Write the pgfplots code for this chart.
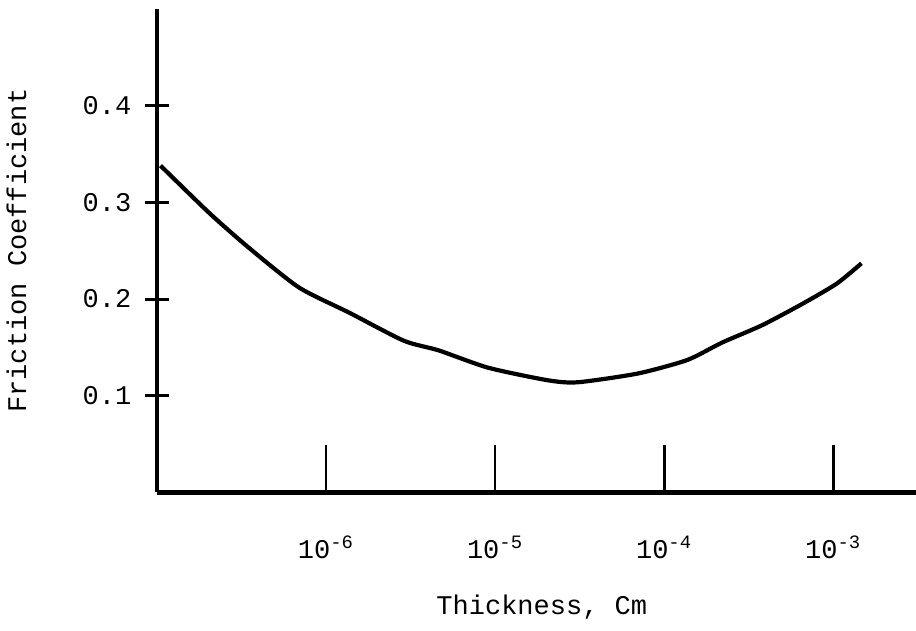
\documentclass[border=0pt]{standalone}
\usepackage{pgfplots}
\pgfplotsset{compat=1.18}
\usepackage{fontspec}
\setmainfont{Liberation Mono}
\begin{document}
\begin{tikzpicture}
\fontsize{13.5}{15}\selectfont
\useasboundingbox (-78.5pt,-69.25pt) rectangle (379.5pt,246.25pt);
\begin{axis}[
  at={(0pt,0pt)}, anchor=south west,
  scale only axis, width=379.5pt, height=241.75pt,
  xmode=log, log basis x=10,
  xmin=1e-7, xmax=3.09e-3,
  ymin=0, ymax=0.5,
  axis x line*=bottom, axis y line*=left,
  axis line style={line width=2.2pt, black},
  xtick={1e-6,1e-5,1e-4,1e-3},
  xticklabels={10\textsuperscript{-6},10\textsuperscript{-5},10\textsuperscript{-4},10\textsuperscript{-3}},
  ytick={0.1,0.2,0.3,0.4},
  yticklabels={0.1,0.2,0.3,0.4},
  minor xtick={}, minor ytick={},
  xtick align=inside, ytick align=center,
  xtick style={line width=1.4pt, black, /pgfplots/major tick length=24pt},
  ytick style={line width=1.6pt, black, /pgfplots/major tick length=12.5pt},
  x tick label style={font=\fontsize{13.5}{15}\selectfont, yshift=-17pt},
  y tick label style={font=\fontsize{13.5}{15}\selectfont, xshift=-6pt},
  /pgf/number format/assume math mode=true,
  xlabel={Thickness, Cm},
  ylabel={Friction Coefficient},
  xlabel style={font=\fontsize{13.5}{15}\selectfont, at={(axis description cs:0.507,0)}, anchor=center, yshift=-57.5pt},
  ylabel style={font=\fontsize{13.5}{15}\selectfont, yshift=19pt},
  clip=false,
]
\addplot[black, line width=2.1pt, smooth, tension=0.4] coordinates {
  (1.05e-7,0.338)
  (2.04e-7,0.289)
  (3.50e-7,0.253)
  (6.92e-7,0.212)
  (1.37e-6,0.186)
  (2.88e-6,0.157)
  (4.63e-6,0.147)
  (9.12e-6,0.129)
  (2.06e-5,0.116)
  (3.09e-5,0.114)
  (6.97e-5,0.123)
  (1.37e-4,0.137)
  (2.20e-4,0.155)
  (3.80e-4,0.173)
  (6.56e-4,0.195)
  (1.05e-3,0.216)
  (1.47e-3,0.237)
};
\end{axis}
\end{tikzpicture}
\end{document}
